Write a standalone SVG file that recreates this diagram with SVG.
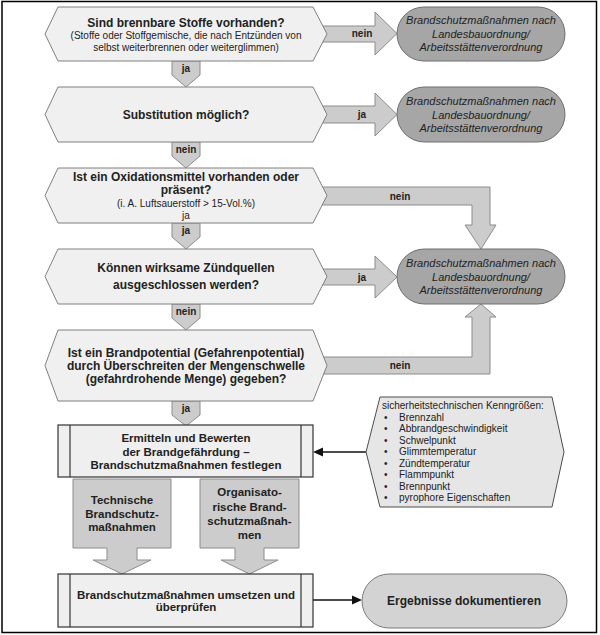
<svg xmlns="http://www.w3.org/2000/svg" width="600" height="635" viewBox="0 0 600 635">
<style>
text{font-family:"Liberation Sans",Arial,sans-serif;fill:#222;text-anchor:middle}
.b{font-weight:bold;font-size:12px}
.bm{font-weight:bold;font-size:11.5px}
.s{font-size:10px}
.it{font-style:italic;font-size:11px}
.lb{font-weight:bold;font-size:10px}
.hex{fill:#f0f0f0;stroke:#808080;stroke-width:1}
.arr{fill:#cccccc;stroke:#8c8c8c;stroke-width:1}
.term{fill:#a6a6a6;stroke:#6e6e6e;stroke-width:1}
.proc{fill:#efefef;stroke:#333;stroke-width:1.2}
.kg{fill:#e6e6e6;stroke:#4d4d4d;stroke-width:1}
.kt{font-size:10px;text-anchor:start}
.ln{stroke:#111;stroke-width:1.5;fill:none}
</style>
<rect x="0" y="0" width="600" height="635" fill="#fff"/>
<rect x="2" y="1.5" width="594.5" height="631" fill="none" stroke="#000" stroke-width="1.5"/>

<g id="connectors">
  <polygon class="arr" points="322,26 375,26 375,12 397,33.5 375,55 375,42 322,42"/>
  <text class="lb" x="362" y="37">nein</text>
  <polygon class="arr" points="322,106 375,106 375,93 397,114.5 375,136 375,123 322,123"/>
  <text class="lb" x="362" y="118">ja</text>
  <polygon class="arr" points="322,187 490,187 490,225 496,225 481,249 465,225 472,225 472,205 322,205"/>
  <text class="lb" x="400" y="200">nein</text>
  <polygon class="arr" points="322,269 375,269 375,256 397,277 375,298 375,285 322,285"/>
  <text class="lb" x="362" y="281">ja</text>
  <polygon class="arr" points="322,357 472,357 472,317 465,317 481,304 496,317 490,317 490,374 322,374"/>
  <text class="lb" x="400" y="369">nein</text>

  <polygon class="arr" points="172,61 200,61 200,75 186,87 172,75"/>
  <text class="lb" x="186" y="72">ja</text>
  <polygon class="arr" points="172,142 200,142 200,156 186,168 172,156"/>
  <text class="lb" x="186" y="153">nein</text>
  <polygon class="arr" points="172,223 200,223 200,237 186,249 172,237"/>
  <text class="lb" x="186" y="234">ja</text>
  <polygon class="arr" points="172,304 200,304 200,318 186,330 172,318"/>
  <text class="lb" x="186" y="315">nein</text>
  <polygon class="arr" points="172,401 200,401 200,415 186,426 172,415"/>
  <text class="lb" x="186" y="412">ja</text>

  <line class="ln" x1="366" y1="452" x2="321" y2="452"/>
  <polygon points="313,452 323,447.5 323,456.5" fill="#111"/>
  <line class="ln" x1="313" y1="600" x2="354" y2="600"/>
  <polygon points="362,600 352,595.5 352,604.5" fill="#111"/>
</g>

<g id="q1">
  <polygon class="hex" points="58,7 313,7 327,34 313,61 58,61 45,34"/>
  <text class="b" x="186" y="27">Sind brennbare Stoffe vorhanden?</text>
  <text class="s" x="186" y="39">(Stoffe oder Stoffgemische, die nach Entzünden von</text>
  <text class="s" x="186" y="51">selbst weiterbrennen oder weiterglimmen)</text>
</g>
<g id="q2">
  <polygon class="hex" points="58,87 313,87 327,114.5 313,142 58,142 45,114.5"/>
  <text class="b" x="186" y="119">Substitution möglich?</text>
</g>
<g id="q3">
  <polygon class="hex" points="58,168 313,168 327,195.5 313,223 58,223 45,195.5"/>
  <text class="b" x="186" y="181">Ist ein Oxidationsmittel vorhanden oder</text>
  <text class="b" x="186" y="194">präsent?</text>
  <text class="s" x="186" y="206.5">(i. A. Luftsauerstoff &gt; 15-Vol.%)</text>
  <text class="s" x="186" y="218.5">ja</text>
</g>
<g id="q4">
  <polygon class="hex" points="58,249 313,249 327,276.5 313,304 58,304 45,276.5"/>
  <text class="b" x="186" y="272">Können wirksame Zündquellen</text>
  <text class="b" x="186" y="289">ausgeschlossen werden?</text>
</g>
<g id="q5">
  <polygon class="hex" points="58,330 313,330 327,365.5 313,401 58,401 45,365.5"/>
  <text class="b" x="186" y="357">Ist ein Brandpotential (Gefahrenpotential)</text>
  <text class="b" x="186" y="370">durch Überschreiten der Mengenschwelle</text>
  <text class="b" x="186" y="383">(gefahrdrohende Menge) gegeben?</text>
</g>

<g id="t1">
  <rect class="term" x="397" y="7" width="168" height="54" rx="27"/>
  <text class="it" x="481" y="24">Brandschutzmaßnahmen nach</text>
  <text class="it" x="481" y="37.5">Landesbauordnung/</text>
  <text class="it" x="481" y="51">Arbeitsstättenverordnung</text>
</g>
<g id="t2">
  <rect class="term" x="397" y="87" width="168" height="55" rx="27.5"/>
  <text class="it" x="481" y="105">Brandschutzmaßnahmen nach</text>
  <text class="it" x="481" y="118.5">Landesbauordnung/</text>
  <text class="it" x="481" y="132">Arbeitsstättenverordnung</text>
</g>
<g id="t3">
  <rect class="term" x="397" y="249" width="168" height="55" rx="27.5"/>
  <text class="it" x="481" y="267">Brandschutzmaßnahmen nach</text>
  <text class="it" x="481" y="280.5">Landesbauordnung/</text>
  <text class="it" x="481" y="294">Arbeitsstättenverordnung</text>
</g>

<g id="p1">
  <rect class="proc" x="58" y="425" width="255" height="52"/>
  <line x1="70" y1="425" x2="70" y2="477" stroke="#333" stroke-width="1.2"/>
  <line x1="301" y1="425" x2="301" y2="477" stroke="#333" stroke-width="1.2"/>
  <text class="bm" x="186" y="442">Ermitteln und Bewerten</text>
  <text class="bm" x="186" y="456">der Brandgefährdung –</text>
  <text class="bm" x="186" y="469">Brandschutzmaßnahmen festlegen</text>
</g>

<g id="kenngroessen">
  <polygon class="kg" points="380,397 552,397 564,452 552,507 380,507 366,452"/>
  <text class="kt" x="382" y="408.5">sicherheitstechnischen Kenngrößen:</text>
  <text class="kt" x="384" y="420.5">•</text><text class="kt" x="399" y="420.5">Brennzahl</text>
  <text class="kt" x="384" y="432">•</text><text class="kt" x="399" y="432">Abbrandgeschwindigkeit</text>
  <text class="kt" x="384" y="443.5">•</text><text class="kt" x="399" y="443.5">Schwelpunkt</text>
  <text class="kt" x="384" y="455">•</text><text class="kt" x="399" y="455">Glimmtemperatur</text>
  <text class="kt" x="384" y="466.5">•</text><text class="kt" x="399" y="466.5">Zündtemperatur</text>
  <text class="kt" x="384" y="478">•</text><text class="kt" x="399" y="478">Flammpunkt</text>
  <text class="kt" x="384" y="489.5">•</text><text class="kt" x="399" y="489.5">Brennpunkt</text>
  <text class="kt" x="384" y="501">•</text><text class="kt" x="399" y="501">pyrophore Eigenschaften</text>
</g>

<g id="technisch">
  <polygon class="arr" points="73,479 171,479 171,548 137,548 137,560 151,560 122,574 93,560 107,560 107,548 73,548"/>
  <text class="bm" x="122" y="504">Technische</text>
  <text class="bm" x="122" y="517.5">Brandschutz-</text>
  <text class="bm" x="122" y="531">maßnahmen</text>
</g>
<g id="organisatorisch">
  <polygon class="arr" points="200,479 299,479 299,548 264,548 264,560 278,560 249.5,574 221,560 235,560 235,548 200,548"/>
  <text class="bm" x="249.5" y="496">Organisato-</text>
  <text class="bm" x="249.5" y="510.5">rische Brand-</text>
  <text class="bm" x="249.5" y="524.5">schutzmaßnah-</text>
  <text class="bm" x="249.5" y="538.5">men</text>
</g>

<g id="p2">
  <rect class="proc" x="58" y="574" width="255" height="53"/>
  <line x1="70" y1="574" x2="70" y2="627" stroke="#333" stroke-width="1.2"/>
  <line x1="301" y1="574" x2="301" y2="627" stroke="#333" stroke-width="1.2"/>
  <text class="bm" x="186" y="599">Brandschutzmaßnahmen umsetzen und</text>
  <text class="bm" x="186" y="611">überprüfen</text>
</g>

<g id="ergebnisse">
  <rect x="362" y="574" width="205" height="54" rx="27" fill="#d3d3d3" stroke="#7a7a7a" stroke-width="1"/>
  <text class="b" x="464" y="605">Ergebnisse dokumentieren</text>
</g>
</svg>
